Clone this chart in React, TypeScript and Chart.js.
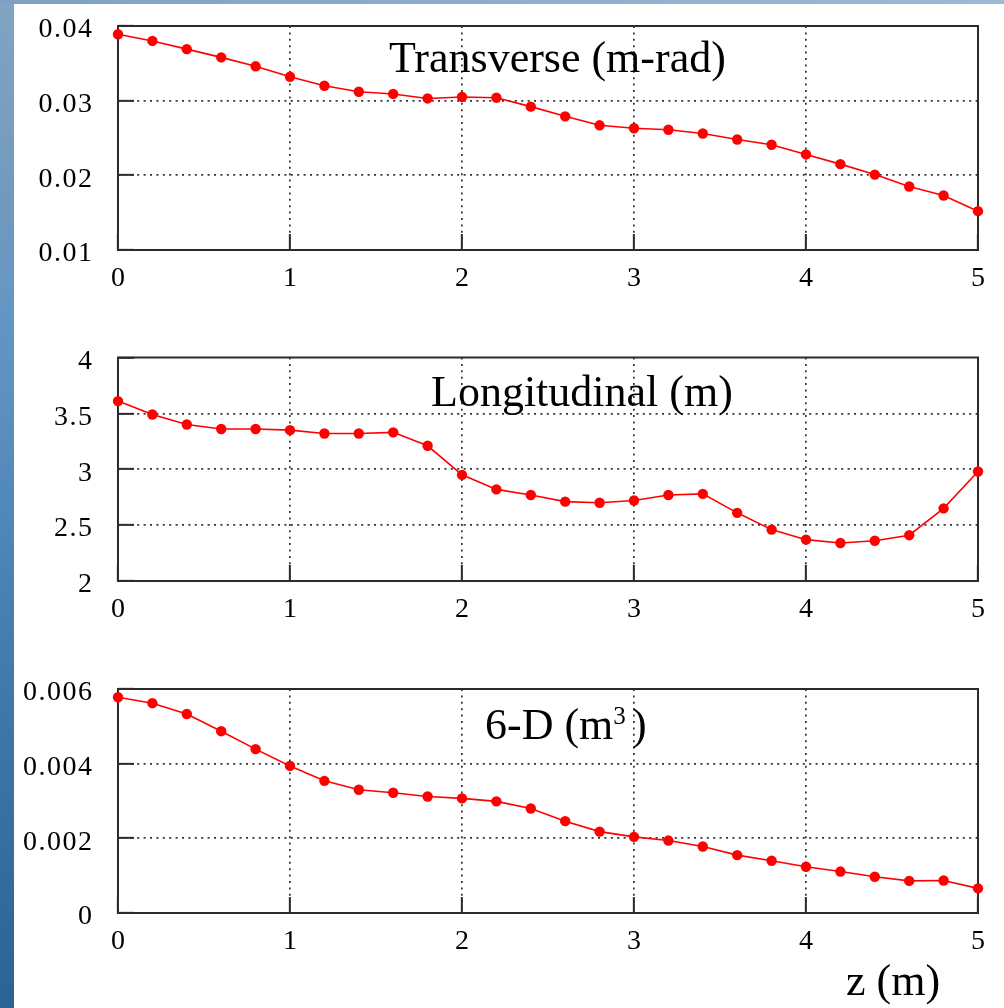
import React, { useEffect, useRef } from "react";
import { Chart, registerables } from "chart.js";

Chart.register(...registerables);

// ---- data ----
const zPositions = [0, 0.2, 0.4, 0.6, 0.8, 1.0, 1.2, 1.4, 1.6, 1.8, 2.0, 2.2, 2.4, 2.6, 2.8, 3.0, 3.2, 3.4, 3.6, 3.8, 4.0, 4.2, 4.4, 4.6, 4.8, 5.0];
const transverse = [0.0389, 0.0380, 0.0369, 0.0358, 0.0346, 0.0332, 0.0320, 0.0312, 0.0309, 0.0303, 0.0305, 0.0304, 0.0292, 0.0279, 0.0267, 0.0263, 0.0261, 0.0256, 0.0248, 0.0241, 0.0228, 0.0215, 0.0201, 0.0185, 0.0173, 0.0152];
const longitudinal = [3.61, 3.49, 3.40, 3.36, 3.36, 3.35, 3.32, 3.32, 3.33, 3.21, 2.95, 2.82, 2.77, 2.71, 2.70, 2.72, 2.77, 2.78, 2.61, 2.46, 2.37, 2.34, 2.36, 2.41, 2.65, 2.98];
const sixD = [0.00578, 0.00562, 0.00533, 0.00487, 0.00439, 0.00394, 0.00354, 0.00330, 0.00322, 0.00312, 0.00307, 0.00299, 0.00280, 0.00246, 0.00218, 0.00204, 0.00194, 0.00178, 0.00155, 0.00140, 0.00124, 0.00111, 0.00097, 0.00086, 0.00087, 0.00066];

const xRange = [0, 5];
const xStep = 1;
const transverseRange = [0.01, 0.04];
const transverseStep = 0.01;
const longitudinalRange = [2, 4];
const longitudinalStep = 0.5;
const sixDRange = [0, 0.006];
const sixDStep = 0.002;

const transverseTitle = "Transverse (m-rad)";
const longitudinalTitle = "Longitudinal (m)";
const sixDTitle = "6-D (m";
const sixDSup = "3";
const xAxisTitle = "z (m)";

const fmt = (v: number) => String(+Number(v).toFixed(6));

const framePlugin = {
  id: "frame",
  beforeDraw(chart: any) {
    (chart.ctx as any).letterSpacing = "1.5px";
  },
  beforeDatasetsDraw(chart: any) {
    const { ctx, chartArea: a } = chart;
    ctx.save();
    ctx.setLineDash([]);
    ctx.strokeStyle = "#2b2b2b";
    ctx.lineWidth = 2;
    ctx.strokeRect(a.left, a.top, a.right - a.left, a.bottom - a.top);
    ctx.restore();
  },
  afterDraw(chart: any) {
    (chart.ctx as any).letterSpacing = "0px";
  },
};

const zeroPad = (s: any) => {
  s.paddingTop = 0;
  s.paddingBottom = 0;
  s.paddingLeft = 0;
  s.paddingRight = 0;
};

function makeChart(
  canvas: HTMLCanvasElement,
  values: number[],
  yRange: number[],
  yStep: number,
  topPad: number,
  xAxisHeight: number
) {
  const tickFont = { family: "'Liberation Serif', serif", size: 28 };
  const gridColor = (min: number, max: number) => (c: any) => {
    const v = c.tick ? c.tick.value : null;
    if (v === null) return "#333";
    if (Math.abs(v - min) < 1e-9 || Math.abs(v - max) < 1e-9) return "rgba(0,0,0,0)";
    return "#333";
  };
  return new Chart(canvas, {
    type: "line",
    data: {
      datasets: [
        {
          data: zPositions.map((z, i) => ({ x: z, y: values[i] })),
          borderColor: "#ff0000",
          backgroundColor: "#ff0000",
          borderWidth: 1.6,
          pointRadius: 5.2,
          pointBackgroundColor: "#ff0000",
          pointBorderWidth: 0,
          tension: 0,
          clip: false as any,
        },
      ],
    },
    options: {
      animation: false,
      responsive: false,
      devicePixelRatio: 1,
      events: [],
      layout: { autoPadding: false, padding: { left: 0, right: 26, top: topPad, bottom: 0 } },
      plugins: { legend: { display: false }, tooltip: { enabled: false } },
      scales: {
        x: {
          type: "linear",
          min: xRange[0],
          max: xRange[1],
          afterFit: (s: any) => {
            s.height = xAxisHeight;
            zeroPad(s);
          },
          border: { display: false, dash: [2, 4.4] },
          grid: {
            color: gridColor(xRange[0], xRange[1]),
            lineWidth: 1.7,
            drawTicks: true,
            tickLength: -16,
            tickColor: "#2b2b2b",
            tickWidth: 2,
            tickBorderDash: [],
          } as any,
          ticks: {
            stepSize: xStep,
            padding: 27.5,
            labelOffset: 0.75,
            color: "#000",
            font: tickFont,
            maxRotation: 0,
            callback: (v: any) => fmt(v),
          },
        },
        y: {
          type: "linear",
          min: yRange[0],
          max: yRange[1],
          afterFit: (s: any) => {
            s.width = 118;
            zeroPad(s);
          },
          border: { display: false, dash: [2, 4.4] },
          grid: {
            color: gridColor(yRange[0], yRange[1]),
            lineWidth: 1.7,
            drawTicks: true,
            tickLength: -16,
            tickColor: "#2b2b2b",
            tickWidth: 2,
            tickBorderDash: [],
          } as any,
          ticks: {
            stepSize: yStep,
            padding: 40.5,
            labelOffset: 4,
            color: "#000",
            font: tickFont,
            callback: (v: any) => fmt(v),
          },
        },
      },
    },
    plugins: [framePlugin as any],
  });
}

const titleStyle: React.CSSProperties = {
  position: "absolute",
  fontFamily: "'Liberation Serif', serif",
  fontSize: "44px",
  lineHeight: "44px",
  color: "#000",
  whiteSpace: "nowrap",
};

export default function App() {
  const r1 = useRef<HTMLCanvasElement>(null);
  const r2 = useRef<HTMLCanvasElement>(null);
  const r3 = useRef<HTMLCanvasElement>(null);

  useEffect(() => {
    const c1 = makeChart(r1.current!, transverse, transverseRange, transverseStep, 26, 50);
    const c2 = makeChart(r2.current!, longitudinal, longitudinalRange, longitudinalStep, 57.5, 49);
    const c3 = makeChart(r3.current!, sixD, sixDRange, sixDStep, 59, 95);
    return () => {
      c1.destroy();
      c2.destroy();
      c3.destroy();
    };
  }, []);

  return (
    <div
      style={{
        position: "absolute",
        left: 0,
        top: 0,
        width: 1004,
        height: 1008,
        overflow: "hidden",
        background:
          "linear-gradient(to bottom, #82a4c3 0%, #7299bd 20%, #6597c4 30%, #5288ba 50%, #3d76a9 72%, #2c6393 100%)",
      }}
    >
      <div
        style={{
          position: "absolute",
          left: 0,
          top: 0,
          width: 1004,
          height: 4,
          background: "linear-gradient(to right, #7fa1c1, #9cbad5)",
        }}
      />
      <div style={{ position: "absolute", left: 14, top: 4, width: 990, height: 1004, background: "#fff" }} />
      <canvas ref={r1} width={1004} height={300} style={{ position: "absolute", left: 0, top: 0 }} />
      <canvas ref={r2} width={1004} height={330} style={{ position: "absolute", left: 0, top: 300 }} />
      <canvas ref={r3} width={1004} height={378} style={{ position: "absolute", left: 0, top: 630 }} />
      <div style={{ ...titleStyle, left: 389, top: 36 }}>{transverseTitle}</div>
      <div style={{ ...titleStyle, left: 431, top: 370 }}>{longitudinalTitle}</div>
      <div style={{ ...titleStyle, left: 485, top: 703 }}>
        {sixDTitle}
        <span style={{ fontSize: "25px", lineHeight: 0, position: "relative", top: -15 }}>{sixDSup + " "}</span>
        )
      </div>
      <div style={{ ...titleStyle, left: 846, top: 959 }}>{xAxisTitle}</div>
    </div>
  );
}
